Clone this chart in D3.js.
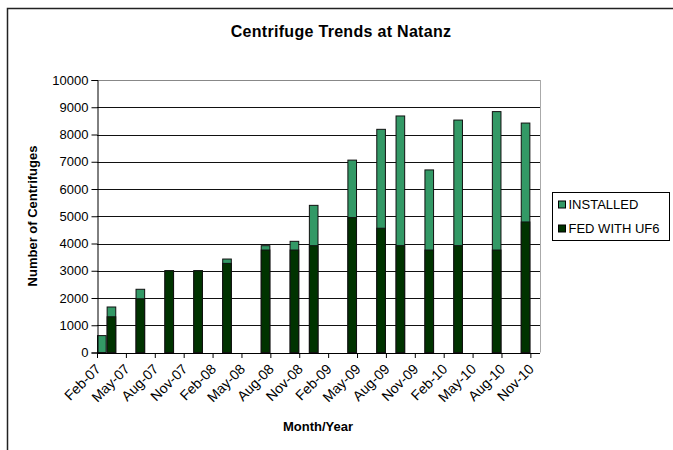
<!DOCTYPE html>
<html>
<head>
<meta charset="utf-8">
<script src="https://cdn.jsdelivr.net/npm/d3@7"></script>
<style>
  body { margin: 0; background: #fff; }
  text { font-family: "Liberation Sans", Arial, sans-serif; fill: #000; }
</style>
</head>
<body>
<div id="chart"></div>
<script>
// report months (bars) and values
const months = ["2007-02", "2007-03", "2007-06", "2007-09", "2007-12", "2008-03", "2008-07", "2008-10",
                "2008-12", "2009-04", "2009-07", "2009-09", "2009-12", "2010-03", "2010-07", "2010-10"];
const installed = [620, 1670, 2320, 3000, 3000, 3430, 3920, 4080, 5400, 7060, 8190, 8680, 6700, 8530, 8840, 8420];
const fed = [0, 1310, 1970, 3000, 3000, 3270, 3760, 3760, 3920, 4950, 4560, 3920, 3760, 3920, 3760, 4790];
const tickLabels = ["Feb-07", "May-07", "Aug-07", "Nov-07", "Feb-08", "May-08", "Aug-08", "Nov-08",
                    "Feb-09", "May-09", "Aug-09", "Nov-09", "Feb-10", "May-10", "Aug-10", "Nov-10"];
const yTicks = [0, 1000, 2000, 3000, 4000, 5000, 6000, 7000, 8000, 9000, 10000];

const W = 673, H = 450;
const plot = { left: 97, right: 540, top: 80, bottom: 352.5 };
const colInstalled = "#339966", colFed = "#003300";

const svg = d3.select("#chart").append("svg")
  .attr("width", W).attr("height", H);

// chart frame (only top and left show)
svg.append("path")
  .attr("d", `M7.5,${H} V8.5 H${W}`)
  .attr("fill", "none").attr("stroke", "#222").attr("stroke-width", 1.5);

const parseM = d3.timeParse("%Y-%m");
const parseTick = d3.timeParse("%b-%y");
const start = parseM("2007-02");
const monthIdx = d => d3.timeMonth.count(start, d);

const x = d3.scaleLinear().domain([0, 46]).range([plot.left, plot.right]);
const y = d3.scaleLinear().domain([0, 10000]).range([plot.bottom, plot.top]);

// gridlines
svg.append("g")
  .selectAll("line")
  .data(yTicks.slice(1))
  .join("line")
    .attr("x1", plot.left).attr("x2", plot.right)
    .attr("y1", d => Math.round(y(d)) + 0.5).attr("y2", d => Math.round(y(d)) + 0.5)
    .attr("stroke", d => d === 10000 ? "#888" : "#111");

// right border of plot area
svg.append("line")
  .attr("x1", plot.right + 0.5).attr("x2", plot.right + 0.5)
  .attr("y1", plot.top).attr("y2", plot.bottom)
  .attr("stroke", "#aaa");

// bars
const data = months.map((m, i) => ({ idx: monthIdx(parseM(m)), installed: installed[i], fed: fed[i] }));
const bars = svg.append("g");
bars.selectAll("rect.inst")
  .data(data)
  .join("rect")
    .attr("class", "inst")
    .attr("x", d => x(d.idx) + 0.5)
    .attr("width", d => x(d.idx + 1) - x(d.idx) - 1)
    .attr("y", d => y(d.installed))
    .attr("height", d => y(0) - y(d.installed))
    .attr("fill", colInstalled).attr("stroke", "#111").attr("stroke-width", 1);
bars.selectAll("rect.fed")
  .data(data.filter(d => d.fed > 0))
  .join("rect")
    .attr("class", "fed")
    .attr("x", d => x(d.idx) + 0.5)
    .attr("width", d => x(d.idx + 1) - x(d.idx) - 1)
    .attr("y", d => y(d.fed))
    .attr("height", d => y(0) - y(d.fed))
    .attr("fill", colFed).attr("stroke", "#111").attr("stroke-width", 1);

// y axis
const yAxis = svg.append("g")
  .attr("transform", `translate(${plot.left + 0.5},0)`)
  .call(d3.axisLeft(y).tickValues(yTicks).tickSize(6).tickPadding(3).tickFormat(d3.format("d")));
yAxis.selectAll("text").style("font-size", "13px");
yAxis.selectAll("line, path").attr("stroke", "#000");

// x axis
const tickIdx = tickLabels.map(t => monthIdx(parseTick(t)));
const xAxis = svg.append("g")
  .attr("transform", `translate(0,${plot.bottom + 0.5})`)
  .call(d3.axisBottom(x).tickValues(tickIdx).tickSize(5).tickSizeOuter(0)
    .tickFormat((d, i) => tickLabels[i]));
xAxis.select("path.domain").attr("d", `M${plot.left},0.5H${plot.right}`).attr("stroke", "#000");
xAxis.selectAll("line").attr("stroke", "#000");
xAxis.selectAll("text")
  .style("font-size", "14px")
  .attr("text-anchor", "end")
  .attr("dy", null).attr("y", 0)
  .attr("transform", "translate(4,17) rotate(-45)");

// title and axis labels
svg.append("text")
  .attr("x", 341).attr("y", 37)
  .attr("text-anchor", "middle")
  .style("font-size", "16px").style("font-weight", "bold")
  .style("letter-spacing", "0.3px")
  .text("Centrifuge Trends at Natanz");

svg.append("text")
  .attr("transform", "translate(37,216) rotate(-90)")
  .attr("text-anchor", "middle")
  .style("font-size", "13px").style("font-weight", "bold")
  .text("Number of Centrifuges");

svg.append("text")
  .attr("x", 318).attr("y", 431)
  .attr("text-anchor", "middle")
  .style("font-size", "13px").style("font-weight", "bold")
  .text("Month/Year");

// legend
const legend = svg.append("g").attr("transform", "translate(552.5,192.5)");
legend.append("rect")
  .attr("width", 117).attr("height", 48)
  .attr("fill", "#fff").attr("stroke", "#000");
const items = [["INSTALLED", colInstalled], ["FED WITH UF6", colFed]];
const li = legend.selectAll("g.item")
  .data(items)
  .join("g")
    .attr("class", "item")
    .attr("transform", (d, i) => `translate(6,${12 + i * 24})`);
li.append("rect")
  .attr("x", 0).attr("y", -3.5).attr("width", 7).attr("height", 7)
  .attr("fill", d => d[1]).attr("stroke", "#000");
li.append("text")
  .attr("x", 10).attr("dy", "0.36em")
  .style("font-size", "13px")
  .text(d => d[0]);
</script>
</body>
</html>
